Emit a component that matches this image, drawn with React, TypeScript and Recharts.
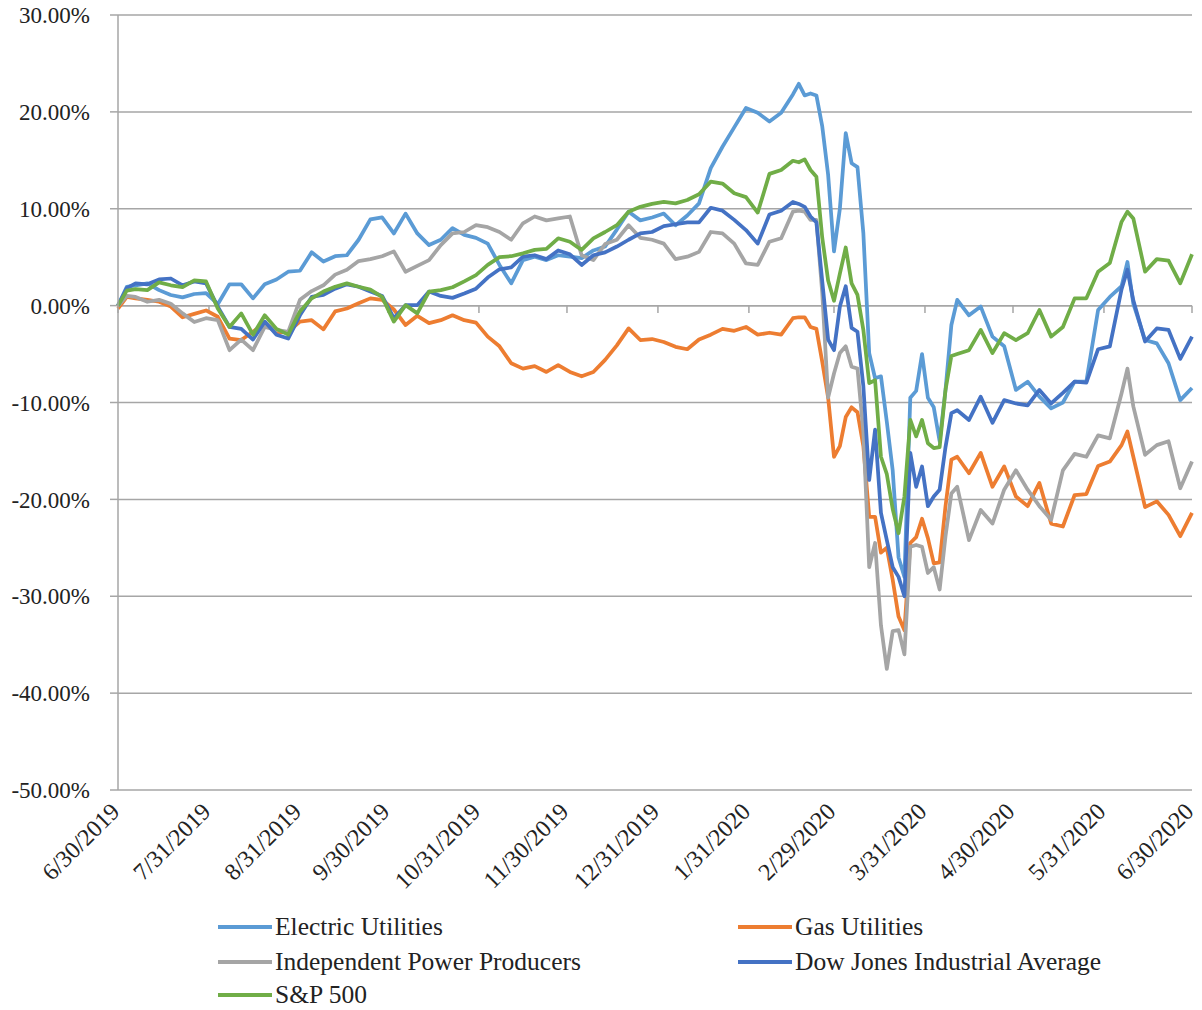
import React from 'react';
import { LineChart, Line, XAxis, YAxis, CartesianGrid, ReferenceLine } from 'recharts';

const FONT = "'Liberation Serif', 'Times New Roman', serif";

// days since 6/30/2019
const days = [
  0, 3, 6,
  10, 14, 18, 22, 26, 30, 34, 38, 42, 46,
  50, 54, 58, 62, 66, 70, 74, 78, 82, 86,
  90, 94, 98, 102, 106, 110, 114, 118, 122, 126,
  130, 134, 138, 142, 146, 150, 154, 158, 162, 166,
  170, 174, 178, 182, 186, 190, 194, 198, 202, 206,
  210, 214, 218, 222, 226, 230,
  232, 234, 236, 238, 240, 242, 244, 246, 248, 250,
  252, 254, 256, 258, 260, 262, 264, 266, 268, 270,
  272, 274, 276, 278, 280, 282, 284, 286,
  290, 294, 298, 302, 306, 310, 314, 318, 322,
  326, 330, 334, 338, 342, 344, 346,
  350, 354, 358, 362, 366,
];

// cumulative return, %
const electric = [
  0, 1.95, 2.1,
  2.3, 1.6, 1.1, 0.85, 1.2, 1.3, 0.15, 2.2, 2.2, 0.75,
  2.2, 2.7, 3.5, 3.6, 5.5, 4.55, 5.1, 5.2, 6.8, 8.9,
  9.1, 7.45, 9.5, 7.45, 6.25, 6.8, 8.0, 7.3, 7.0, 6.4,
  4.2, 2.3, 4.7, 5.05, 4.7, 5.2, 5.05, 4.9, 5.7, 6.1,
  7.85, 9.7, 8.8, 9.1, 9.5, 8.3, 9.3, 10.55, 14.2, 16.4,
  18.4, 20.4, 19.9, 19.0, 19.9, 21.8,
  22.9, 21.7, 21.9, 21.7, 18.5, 13.5, 5.6, 10.0, 17.8, 14.7,
  14.3, 7.5, -4.9, -7.5, -7.3, -12, -17, -26, -28, -9.5,
  -8.8, -5, -9.5, -10.5, -14, -8.7, -2, 0.6,
  -1.0, -0.1, -3.2, -4.2, -8.7, -7.85, -9.4, -10.6, -10.0,
  -7.85, -7.85, -0.45, 0.9, 2.0, 4.5, 0.2,
  -3.55, -3.9, -5.95, -9.75, -8.5,
];

const gas = [
  -0.3, 0.9, 0.75,
  0.6, 0.4, -0.1, -1.2, -0.85, -0.5, -1.15, -3.4, -3.55, -2.7,
  -1.8, -2.8, -2.7, -1.65, -1.5, -2.45, -0.6, -0.3, 0.25, 0.75,
  0.6, -0.4, -2.0, -1.05, -1.8, -1.5, -1.0, -1.5, -1.75, -3.2,
  -4.2, -5.95, -6.5, -6.25, -6.85, -6.15, -6.85, -7.3, -6.85, -5.6,
  -4.1, -2.35, -3.55, -3.45, -3.75, -4.25, -4.5, -3.5, -3.0, -2.4,
  -2.6, -2.2, -3.0, -2.8, -3.0, -1.3,
  -1.2, -1.2, -2.2, -2.4, -5.8, -9.5, -15.6, -14.5, -11.5, -10.5,
  -11.0, -14.5, -21.8, -21.8, -25.5, -25.0, -28.3, -32.1, -33.5, -24.5,
  -23.9, -22.0, -24.0, -26.6, -26.5, -20.7, -15.9, -15.6,
  -17.3, -15.2, -18.7, -16.6, -19.7, -20.7, -18.3, -22.5, -22.8,
  -19.55, -19.45, -16.55, -16.1, -14.4, -13.0, -15.6,
  -20.8, -20.2, -21.6, -23.8, -21.4,
];

const ipp = [
  0, 1.0, 0.9,
  0.4, 0.6, 0.2, -0.8, -1.7, -1.3, -1.5, -4.6, -3.5, -4.6,
  -2.2, -2.5, -2.7, 0.6, 1.5, 2.1, 3.2, 3.7, 4.6, 4.8,
  5.1, 5.6, 3.5, 4.1, 4.7, 6.25, 7.45, 7.6, 8.3, 8.1,
  7.6, 6.8, 8.5, 9.2, 8.8, 9.0, 9.2, 5.2, 4.7, 6.35,
  6.8, 8.3, 7.0, 6.8, 6.4, 4.8, 5.05, 5.55, 7.6, 7.45,
  6.4, 4.35, 4.2, 6.6, 6.95, 9.7,
  9.8, 9.7, 8.85, 8.85, 1.3, -9.5, -7.0, -4.9, -4.2, -6.3,
  -6.5, -13, -27, -24.5, -33, -37.5, -33.6, -33.5, -36, -24.9,
  -24.7, -24.9, -27.6, -27.0, -29.3, -23.8, -19.4, -18.7,
  -24.2, -21.1, -22.5, -19.0, -17.0, -19.0, -20.7, -22.1, -17.0,
  -15.3, -15.6, -13.4, -13.7, -9.05, -6.5, -10.4,
  -15.4, -14.4, -14.0, -18.85, -16.1,
];

const dow = [
  0, 1.8, 2.3,
  2.2, 2.7, 2.8, 2.1, 2.5, 2.3, -0.1, -2.2, -2.4, -3.5,
  -1.65, -3.0, -3.4, -1.0, 0.9, 1.1, 1.75, 2.2, 1.95, 1.45,
  1.0, -1.3, 0.05, 0.05, 1.45, 1.0, 0.8, 1.25, 1.75, 2.9,
  3.75, 3.95, 5.05, 5.2, 4.8, 5.7, 5.3, 4.2, 5.2, 5.5,
  6.1, 6.8, 7.45, 7.6, 8.2, 8.4, 8.6, 8.6, 10.1, 9.8,
  8.85, 7.8, 6.4, 9.4, 9.8, 10.7,
  10.5, 10.2, 9.2, 8.6, 2.5, -3.5, -4.6, -0.1, 2.0, -2.3,
  -2.7, -8.3, -18, -12.8, -21.4, -24.2, -27.0, -28.0, -30.0, -15.2,
  -18.7, -16.6, -20.7, -19.7, -19.0, -14.6, -11.1, -10.8,
  -11.8, -9.4, -12.1, -9.75, -10.1, -10.3, -8.7, -10.1, -9.0,
  -7.85, -7.95, -4.5, -4.2, 1.7, 3.7, 0.55,
  -3.7, -2.35, -2.5, -5.5, -3.2,
];

const sp500 = [
  0, 1.55, 1.7,
  1.6, 2.4, 2.1, 1.9, 2.6, 2.5, -0.3, -2.2, -0.8, -3.0,
  -1.0, -2.4, -3.0, -0.6, 0.75, 1.45, 1.95, 2.3, 1.95, 1.65,
  0.9, -1.65, 0.05, -0.8, 1.45, 1.6, 1.9, 2.5, 3.15, 4.2,
  5.0, 5.1, 5.4, 5.75, 5.85, 6.95, 6.6, 5.75, 6.95, 7.6,
  8.3, 9.7, 10.2, 10.5, 10.7, 10.55, 10.9, 11.5, 12.8, 12.6,
  11.6, 11.2, 9.6, 13.6, 14.0, 14.95,
  14.8, 15.1, 14.0, 13.3, 7.0, 2.6, 0.5, 3.3, 6.0, 2.3,
  1.1, -2.5, -8.0, -7.7, -15.6, -17.4, -21.0, -23.5, -19.7, -11.8,
  -13.5, -11.8, -14.2, -14.7, -14.6, -8.7, -5.2, -5.0,
  -4.6, -2.5, -4.9, -2.85, -3.55, -2.85, -0.45, -3.2, -2.2,
  0.75, 0.75, 3.5, 4.4, 8.65, 9.7, 9.0,
  3.5, 4.8, 4.65, 2.3, 5.3,
];

const monthEnds = [0, 31, 62, 92, 123, 153, 184, 215, 244, 275, 305, 336, 366];
const monthLabels = [
  '6/30/2019', '7/31/2019', '8/31/2019', '9/30/2019', '10/31/2019', '11/30/2019',
  '12/31/2019', '1/31/2020', '2/29/2020', '3/31/2020', '4/30/2020', '5/31/2020', '6/30/2020',
];
const yTicks = [-50, -40, -30, -20, -10, 0, 10, 20, 30];

const series = [
  { key: 'electric', name: 'Electric Utilities', color: '#5B9BD5' },
  { key: 'gas', name: 'Gas Utilities', color: '#ED7D31' },
  { key: 'ipp', name: 'Independent Power Producers', color: '#A5A5A5' },
  { key: 'dow', name: 'Dow Jones Industrial Average', color: '#4472C4' },
  { key: 'sp500', name: 'S&P 500', color: '#70AD47' },
];

const data = days.map((day, i) => ({
  day,
  electric: electric[i],
  gas: gas[i],
  ipp: ipp[i],
  dow: dow[i],
  sp500: sp500[i],
}));

const GRID = '#A6A6A6';

const DateTick = ({ x, y, payload }: any) => {
  const label = monthLabels[monthEnds.indexOf(payload.value)];
  const tx = x - 3;
  const ty = y + 15;
  return (
    <text
      x={tx}
      y={ty}
      dy="0.35em"
      transform={`rotate(-45, ${tx}, ${ty})`}
      textAnchor="end"
      fill="#222"
      fontSize={24}
      fontFamily={FONT}
    >
      {label}
    </text>
  );
};

// legend slots in page pixels: [left, center y]
const legendSlots = [
  [218, 927],
  [738, 927],
  [218, 962],
  [738, 962],
  [218, 995],
];

const App: React.FC = () => {
  return (
    <div style={{ position: 'absolute', left: 0, top: 0, width: 1202, height: 1010 }}>
      <LineChart
        width={1202}
        height={1010}
        data={data}
        margin={{ top: 15, right: 10, bottom: 110, left: 8 }}
      >
        <CartesianGrid horizontal vertical={false} stroke={GRID} strokeWidth={1.5} />
        <XAxis
          dataKey="day"
          type="number"
          domain={[0, 366]}
          ticks={monthEnds}
          interval={0}
          height={110}
          axisLine={false}
          tickLine={false}
          tickSize={0}
          tick={<DateTick />}
        />
        <YAxis
          type="number"
          domain={[-50, 30]}
          ticks={yTicks}
          interval={0}
          width={110}
          tickSize={8}
          tickMargin={20}
          axisLine={{ stroke: GRID, strokeWidth: 1.5 }}
          tickLine={{ stroke: GRID, strokeWidth: 1.5 }}
          tick={{ fill: '#222', fontSize: 23, fontFamily: FONT }}
          tickFormatter={(v: number) => `${v.toFixed(2)}%`}
        />
        <ReferenceLine y={0} stroke={GRID} strokeWidth={1.5} />
        {monthEnds.map((d) => (
          <ReferenceLine
            key={`t${d}`}
            segment={[{ x: d, y: 0 }, { x: d, y: -0.75 }]}
            stroke={GRID}
            strokeWidth={1.5}
          />
        ))}
        {series.map((s) => (
          <Line
            key={s.key}
            dataKey={s.key}
            name={s.name}
            type="linear"
            stroke={s.color}
            strokeWidth={3.75}
            strokeLinejoin="round"
            dot={false}
            activeDot={false}
            isAnimationActive={false}
          />
        ))}
      </LineChart>
      {series.map((s, i) => (
        <div
          key={s.key}
          style={{
            position: 'absolute',
            left: legendSlots[i][0],
            top: legendSlots[i][1] - 16,
            height: 32,
            display: 'flex',
            alignItems: 'center',
            whiteSpace: 'nowrap',
            fontFamily: FONT,
            fontSize: 25.5,
            color: '#222',
          }}
        >
          <span
            style={{ display: 'inline-block', width: 54, height: 4, background: s.color, marginRight: 3 }}
          />
          {s.name}
        </div>
      ))}
    </div>
  );
};

export default App;
